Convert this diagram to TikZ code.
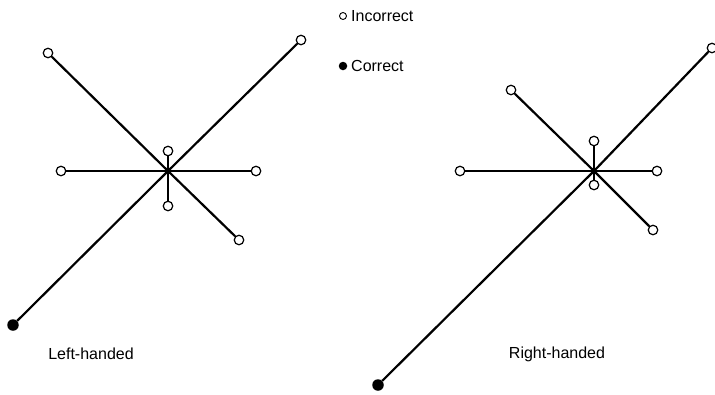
\documentclass[tikz,border=0pt]{standalone}
\usepackage{fontspec}
\setmainfont{Liberation Sans}
\begin{document}
\begin{tikzpicture}[x=1pt,y=-1pt,
  opendot/.style={circle,draw,fill=white,line width=1.2pt,inner sep=0pt,minimum size=9.5pt},
  fulldot/.style={circle,fill=black,inner sep=0pt,minimum size=11.5pt},
  ray/.style={line width=2.2pt},
  lbl/.style={font=\fontsize{16}{19}\selectfont,inner sep=0pt}]
\useasboundingbox (0,0) rectangle (715,394);
% left figure
\coordinate (lc) at (168,171);
\node[opendot] (lnw) at (48,53) {};
\node[opendot] (lne) at (301,40) {};
\node[opendot] (lw) at (61,171) {};
\node[opendot] (le) at (256,171) {};
\node[opendot] (ln) at (168,151) {};
\node[opendot] (ls) at (168,206) {};
\node[opendot] (lse) at (239,240) {};
\node[fulldot] (lsw) at (13,325) {};
\draw[ray] (lc) -- (lnw);
\draw[ray] (lc) -- (lne);
\draw[ray] (lc) -- (lw);
\draw[ray] (lc) -- (le);
\draw[ray] (lc) -- (ln);
\draw[ray] (lc) -- (ls);
\draw[ray] (lc) -- (lse);
\draw[ray] (lc) -- (lsw);
% right figure
\coordinate (rc) at (594,171);
\node[opendot] (rnw) at (511,90) {};
\node[opendot] (rne) at (712,48) {};
\node[opendot] (rw) at (460,171) {};
\node[opendot] (re) at (657,171) {};
\node[opendot] (rn) at (594,141) {};
\node[opendot] (rs) at (594,185) {};
\node[opendot] (rse) at (653,230) {};
\node[fulldot] (rsw) at (378,385) {};
\draw[ray] (rc) -- (rnw);
\draw[ray] (rc) -- (rne);
\draw[ray] (rc) -- (rw);
\draw[ray] (rc) -- (re);
\draw[ray] (rc) -- (rn);
\draw[ray] (rc) -- (rs);
\draw[ray] (rc) -- (rse);
\draw[ray] (rc) -- (rsw);
% legend
\node[circle,draw,line width=0.9pt,inner sep=0pt,minimum size=7pt] (kopen) at (343,16) {};
\node[lbl,anchor=west] (kopentxt) at (351,16) {Incorrect};
\node[circle,fill=black,inner sep=0pt,minimum size=8.5pt] (kfull) at (343,66) {};
\node[lbl,anchor=west] (kfulltxt) at (351,66) {Correct};
% captions
\node[lbl] (lcap) at (91,354) {Left-handed};
\node[lbl] (rcap) at (557,354) {Right-handed};
\end{tikzpicture}
\end{document}
